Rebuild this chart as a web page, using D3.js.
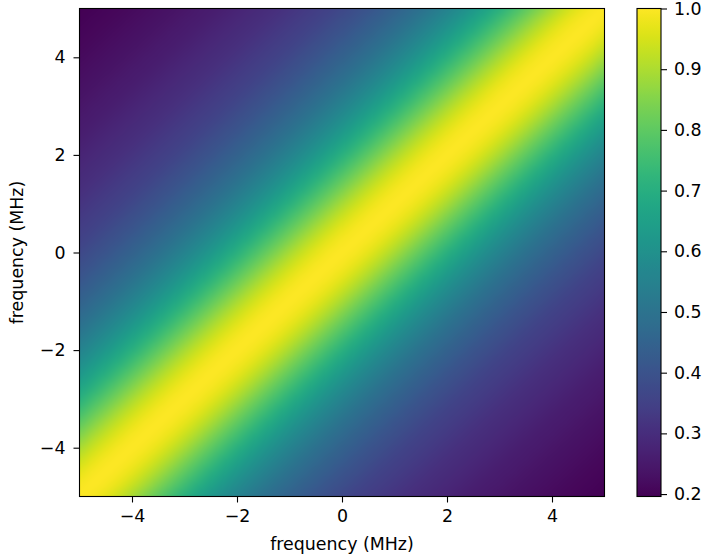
<!DOCTYPE html>
<html><head><meta charset="utf-8">
<script src="https://cdn.jsdelivr.net/npm/d3@7"></script>
<style>
html,body{margin:0;padding:0;background:#fff;}
svg{display:block;font-family:"DejaVu Sans",sans-serif;}
.tick text{font-size:17.4px;fill:#000;font-family:"DejaVu Sans",sans-serif;}
.tick line{stroke:#000;stroke-width:1.1;}
</style></head><body>
<svg id="c" width="704" height="559"></svg>
<script>
// frequency grid (MHz)
const freqs = d3.range(41).map(i => -5 + i * 0.25);
// value vs |f1 - f2| (MHz), read at 0.25 MHz steps from 0 to 10
const sepMHz = d3.range(41).map(i => i * 0.25);
const profile = [1.000,0.992,0.970,0.936,0.894,0.848,0.800,0.753,0.707,0.664,
  0.625,0.588,0.555,0.524,0.496,0.471,0.447,0.426,0.406,0.388,
  0.371,0.356,0.342,0.329,0.316,0.305,0.294,0.284,0.275,0.266,
  0.258,0.250,0.243,0.236,0.229,0.223,0.217,0.211,0.206,0.201,0.196];
const xTicks = [-4,-2,0,2,4];
const yTicks = [-4,-2,0,2,4];
const cbTicks = [0.2,0.3,0.4,0.5,0.6,0.7,0.8,0.9,1.0];
const xLabel = "frequency (MHz)";
const yLabel = "frequency (MHz)";

const svg = d3.select("#c");
const L = 79.5, R = 604.5, T = 8.5, B = 496.5;
const x = d3.scaleLinear().domain([-5,5]).range([L,R]);
const y = d3.scaleLinear().domain([-5,5]).range([B,T]);
const vmin = d3.min(profile), vmax = d3.max(profile);
const color = d3.scaleSequential(d3.interpolateViridis).domain([vmin, vmax]);

// build image: cell (i,j) value = profile[|i-j|]
const n = freqs.length;
const cv = document.createElement("canvas");
cv.width = n; cv.height = n;
const ctx = cv.getContext("2d");
const img = ctx.createImageData(n, n);
for (let r = 0; r < n; r++) {
  const j = n - 1 - r; // row 0 = top = highest freq
  for (let i = 0; i < n; i++) {
    const v = profile[Math.abs(i - j)];
    const c = d3.rgb(color(v));
    const k = (r * n + i) * 4;
    img.data[k] = c.r; img.data[k+1] = c.g; img.data[k+2] = c.b; img.data[k+3] = 255;
  }
}
ctx.putImageData(img, 0, 0);
const big = document.createElement("canvas");
const half = 0.125;
const x0 = x(freqs[0] - half), x1 = x(freqs[n-1] + half);
const y0 = y(freqs[n-1] + half), y1 = y(freqs[0] - half);
big.width = Math.round(x1 - x0); big.height = Math.round(y1 - y0);
const bctx = big.getContext("2d");
bctx.imageSmoothingEnabled = true;
bctx.imageSmoothingQuality = "high";
bctx.drawImage(cv, 0, 0, big.width, big.height);

const defs = svg.append("defs");
defs.append("clipPath").attr("id","clip").append("rect")
  .attr("x", L).attr("y", T).attr("width", R - L).attr("height", B - T);
svg.append("g").attr("clip-path","url(#clip)").append("image")
  .attr("href", big.toDataURL())
  .attr("x", x0).attr("y", y0)
  .attr("width", x1 - x0).attr("height", y1 - y0)
  .attr("preserveAspectRatio","none");

svg.append("rect").attr("x", L).attr("y", T).attr("width", R - L).attr("height", B - T)
  .attr("fill","none").attr("stroke","#000").attr("stroke-width",1.1);

const fmt = d => (d < 0 ? "\u2212" + Math.abs(d) : String(d));
const gx = svg.append("g").attr("transform", `translate(0,${B})`)
  .call(d3.axisBottom(x).tickValues(xTicks).tickFormat(fmt).tickSize(6).tickPadding(7.5));
const gy = svg.append("g").attr("transform", `translate(${L},0)`)
  .call(d3.axisLeft(y).tickValues(yTicks).tickFormat(fmt).tickSize(6).tickPadding(8));
[gx, gy].forEach(g => g.select(".domain").remove());

svg.append("text").attr("x", (L + R) / 2).attr("y", 550).attr("text-anchor","middle")
  .style("font-size","17.4px").text(xLabel);
svg.append("text").attr("transform", `translate(23,${(T + B) / 2}) rotate(-90)`)
  .attr("text-anchor","middle").style("font-size","17.4px").text(yLabel);

// colorbar
const CL = 637, CR = 661, CT = 8.5, CB = 496.5;
const cy = d3.scaleLinear().domain([vmin, vmax]).range([CB, CT]);
const grad = defs.append("linearGradient").attr("id","cbg")
  .attr("x1",0).attr("y1",1).attr("x2",0).attr("y2",0);
d3.range(0, 1.0001, 0.02).forEach(t => {
  grad.append("stop").attr("offset", t).attr("stop-color", color(vmin + t * (vmax - vmin)));
});
svg.append("rect").attr("x", CL).attr("y", CT).attr("width", CR - CL).attr("height", CB - CT)
  .attr("fill","url(#cbg)").attr("stroke","#000").attr("stroke-width",1.1);
const gc = svg.append("g").attr("transform", `translate(${CR},0)`)
  .call(d3.axisRight(cy).tickValues(cbTicks).tickFormat(d3.format(".1f")).tickSize(6).tickPadding(7));
gc.select(".domain").remove();
</script>
</body></html>
